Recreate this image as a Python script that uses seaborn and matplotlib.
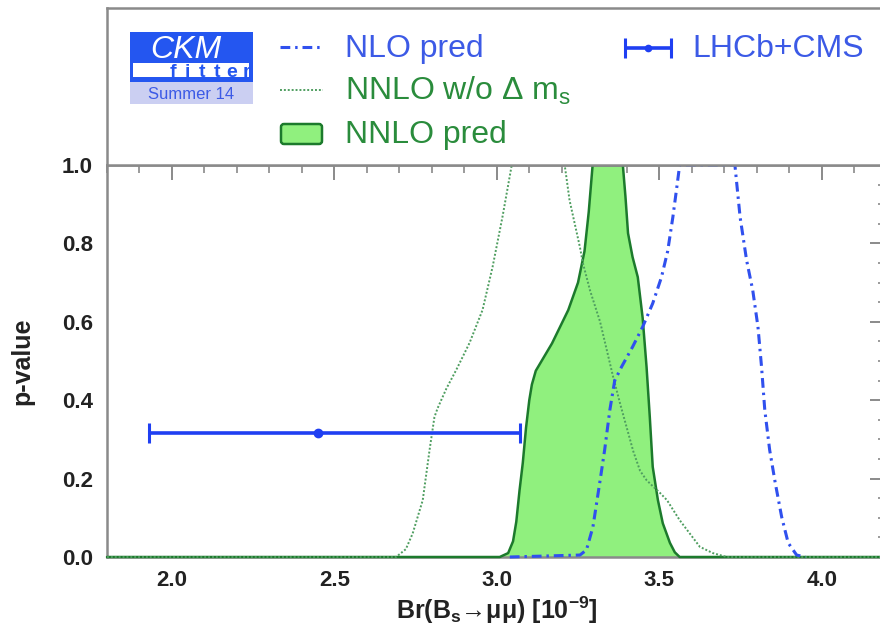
import numpy as np
import pandas as pd
import matplotlib
matplotlib.use("Agg")
import matplotlib.pyplot as plt
from matplotlib.patches import Rectangle, FancyBboxPatch
from matplotlib.ticker import MultipleLocator, FormatStrFormatter
import seaborn as sns

# ---------------- data ----------------
# NNLO prediction (filled p-value curve)
nnlo_br = [1.80, 3.009, 3.035, 3.05, 3.06, 3.07, 3.08, 3.09, 3.10, 3.108, 3.12, 3.17,
           3.22, 3.25, 3.27, 3.283, 3.295, 3.388, 3.396, 3.404, 3.418, 3.434, 3.449,
           3.461, 3.471, 3.480, 3.496, 3.511, 3.533, 3.548, 3.563, 4.20]
nnlo_p = [0.0, 0.0, 0.01, 0.04, 0.09, 0.17, 0.24, 0.33, 0.40, 0.44, 0.475, 0.545,
          0.63, 0.70, 0.78, 0.88, 1.0, 1.0, 0.92, 0.826, 0.765, 0.714, 0.61,
          0.485, 0.357, 0.23, 0.145, 0.086, 0.036, 0.012, 0.0, 0.0]

# NNLO prediction without the Delta m_s constraint
nodms_br = [1.80, 2.69, 2.72, 2.741, 2.772, 2.793, 2.808, 2.818, 2.845, 2.875, 2.916,
            2.956, 2.987, 3.018, 3.046, 3.209, 3.224, 3.256, 3.265, 3.287, 3.318,
            3.338, 3.358, 3.380, 3.40, 3.42, 3.441, 3.461, 3.481, 3.503, 3.524,
            3.543, 3.563, 3.594, 3.625, 3.665, 3.708, 4.20]
nodms_p = [0.0, 0.0, 0.02, 0.06, 0.145, 0.273, 0.357, 0.38, 0.43, 0.477, 0.546,
           0.63, 0.74, 0.87, 1.0, 1.0, 0.91, 0.79, 0.75, 0.68, 0.60,
           0.53, 0.46, 0.39, 0.33, 0.27, 0.22, 0.196, 0.18, 0.163, 0.145,
           0.12, 0.094, 0.06, 0.026, 0.01, 0.0, 0.0]

# NLO prediction
nlo_br = [3.04, 3.256, 3.276, 3.296, 3.317, 3.332, 3.348, 3.363, 3.384, 3.418, 3.449,
          3.48, 3.507, 3.526, 3.542, 3.553, 3.563, 3.733, 3.749, 3.769, 3.788, 3.804,
          3.815, 3.825, 3.84, 3.857, 3.877, 3.897, 3.923, 3.95]
nlo_p = [0.0, 0.005, 0.018, 0.077, 0.19, 0.273, 0.375, 0.45, 0.485, 0.536, 0.587,
         0.647, 0.714, 0.78, 0.867, 0.936, 1.0, 1.0, 0.867, 0.757, 0.68, 0.587,
         0.485, 0.375, 0.273, 0.19, 0.102, 0.036, 0.005, 0.0]

# LHCb+CMS measurement (1 sigma interval drawn at p = 0.3173)
lhcb_central = 2.45
lhcb_low = 1.93
lhcb_high = 3.07
lhcb_p = 0.3173

x_ticks = [2.0, 2.5, 3.0, 3.5, 4.0]
y_ticks = [0.0, 0.2, 0.4, 0.6, 0.8, 1.0]

# ---------------- style ----------------
sns.set_style("white")
plt.rcParams["font.family"] = ["Liberation Sans", "DejaVu Sans"]
plt.rcParams["mathtext.default"] = "regular"

BLUE_TXT = "#3c5ae6"
BLUE_LINE = "#3050ee"
BLUE_BAR = "#1f3ff2"
GREEN_TXT = "#2a8c3c"
GREEN_EDGE = "#1c7a2c"
GREEN_FILL = "#90f07e"
GREEN_DOT = "#4f9e60"
FRAME = "#8a8a8a"
LOGO_BLUE = "#2456f0"

W, H = 880, 637
fig = plt.figure(figsize=(W / 100, H / 100), dpi=100)


def frac(l, t, r, b):
    return [l / W, 1 - b / H, (r - l) / W, (b - t) / H]


ax = fig.add_axes(frac(107, 165, 886.6, 557))
hd = fig.add_axes(frac(107, 8, 886.6, 165))

df_nnlo = pd.DataFrame({"br": nnlo_br, "p": nnlo_p})
df_nodms = pd.DataFrame({"br": nodms_br, "p": nodms_p})
df_nlo = pd.DataFrame({"br": nlo_br, "p": nlo_p})

nlo_style = (0, (3.2, 1.6, 0.8, 1.6))

ax.fill_between(df_nnlo["br"], 0, df_nnlo["p"], color=GREEN_FILL, lw=0, zorder=2)
sns.lineplot(data=df_nnlo, x="br", y="p", ax=ax, sort=False, estimator=None,
             color=GREEN_EDGE, linewidth=1.8, zorder=4, clip_on=False)
sns.lineplot(data=df_nodms, x="br", y="p", ax=ax, sort=False, estimator=None,
             color=GREEN_DOT, linewidth=1.4, linestyle=(0, (1, 1)), zorder=5,
             clip_on=False)
sns.lineplot(data=df_nlo, x="br", y="p", ax=ax, sort=False, estimator=None,
             color=BLUE_LINE, linewidth=2.2, linestyle=nlo_style, zorder=6,
             clip_on=False)

ax.errorbar([lhcb_central], [lhcb_p],
            xerr=[[lhcb_central - lhcb_low], [lhcb_high - lhcb_central]],
            fmt="o", ms=6, color=BLUE_BAR, ecolor=BLUE_BAR, elinewidth=2.6,
            capsize=7, capthick=2.2, zorder=7)

ax.set_xlim(1.8, 4.2)
ax.set_ylim(0.0, 1.0)
ax.set_xticks(x_ticks)
ax.set_yticks(y_ticks)
ax.xaxis.set_minor_locator(MultipleLocator(0.1))
ax.yaxis.set_minor_locator(MultipleLocator(0.05))
ax.xaxis.set_major_formatter(FormatStrFormatter("%.1f"))
ax.yaxis.set_major_formatter(FormatStrFormatter("%.1f"))
ax.tick_params(axis="both", which="both", direction="in", top=True, right=True,
               color=FRAME, labelcolor="#222222", labelsize=16)
ax.tick_params(axis="x", which="major", length=10.5, width=1.4, pad=9)
ax.tick_params(axis="x", which="minor", length=6, width=1.2)
ax.tick_params(axis="y", which="major", length=12, width=1.4, pad=10)
ax.tick_params(axis="y", which="minor", length=6.5, width=1.2)
for lab in ax.get_xticklabels() + ax.get_yticklabels():
    lab.set_fontweight("bold")
for sp in ax.spines.values():
    sp.set_color(FRAME)
    sp.set_linewidth(1.8)

ax.set_xlabel("Br(B$_s$\u2192\u03bc\u03bc) [10$^{-9}$]", fontsize=18, fontweight="bold",
              color="#222222", va="center")
ax.xaxis.set_label_coords(0.5, -0.135)
ax.set_ylabel("p-value", fontsize=18, fontweight="bold", color="#222222", va="center")
ax.yaxis.set_label_coords(-0.108, 0.5)

# ---------------- header panel with logo and legend ----------------
hd.set_xlim(107, 886.6)
hd.set_ylim(165, 8)
hd.set_xticks([])
hd.set_yticks([])
for sp in hd.spines.values():
    sp.set_color(FRAME)
    sp.set_linewidth(1.8)

# CKMfitter logo
hd.add_patch(Rectangle((130, 32), 123, 50, color=LOGO_BLUE, lw=0))
hd.add_patch(Rectangle((133, 63), 116, 14, color="white", lw=0))
hd.add_patch(Rectangle((130, 82), 123, 22, color="#cbcff2", lw=0))
hd.text(186, 58, "CKM", color="white", fontsize=23, style="italic",
        ha="center", va="baseline")
for i, ch in enumerate("fitter"):
    hd.text(173 + i * 14.6, 77, ch, color=LOGO_BLUE, fontsize=14, fontweight="bold",
            ha="center", va="baseline")
hd.text(191, 99, "Summer 14", color=BLUE_TXT, fontsize=12, ha="center", va="baseline")

# legend entries
hd.plot([280, 323], [47, 47], color=BLUE_LINE, linewidth=2.2, linestyle=nlo_style)
hd.text(345, 57, "NLO pred", color=BLUE_TXT, fontsize=23, va="baseline")
hd.plot([280, 323], [90, 90], color=GREEN_DOT, linewidth=1.4, linestyle=(0, (1, 1)))
hd.text(345, 100, "NNLO w/o \u0394 m$_s$", color=GREEN_TXT, fontsize=23, va="baseline")
hd.add_patch(FancyBboxPatch((281, 124), 41, 20, boxstyle="round,pad=0,rounding_size=3",
                            fc=GREEN_FILL, ec=GREEN_EDGE, lw=1.8))
hd.text(345, 143, "NNLO pred", color=GREEN_TXT, fontsize=23, va="baseline")
hd.errorbar([648], [48], xerr=[[23], [23]], fmt="o", ms=4.5, color=BLUE_BAR,
            elinewidth=2.6, capsize=7, capthick=2.2)
hd.text(692, 57, "LHCb+CMS", color=BLUE_TXT, fontsize=23, va="baseline")

fig.savefig("out.png", dpi=100)
